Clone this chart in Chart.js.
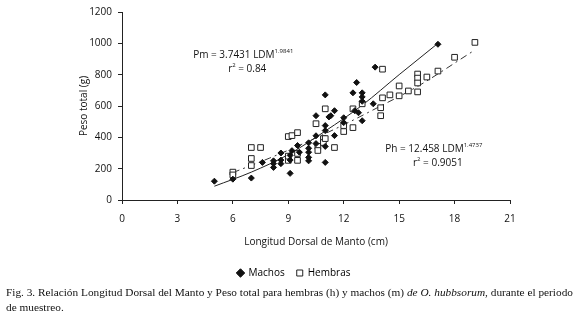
<!DOCTYPE html>
<html>
<head>
<meta charset="utf-8">
<script src="https://cdn.jsdelivr.net/npm/chart.js@4.4.1/dist/chart.umd.min.js"></script>
<style>
	body { margin: 0; background: #fff; }
	#wrap { position: relative; width: 580px; height: 318px; }
	#box { position: absolute; left: 0; top: 0; width: 580px; height: 288px; }
	#caption {
		position: absolute; left: 6px; top: 285px; width: 574px;
		font-family: 'Liberation Serif', serif; font-size: 11.3px; line-height: 15px; color: #111;
	}
</style>
</head>
<body>
<div id="wrap">
	<div id="box"><canvas id="chart"></canvas></div>
	<div id="caption">Fig. 3. Relación Longitud Dorsal del Manto y Peso total para hembras (h) y machos (m) <i>de O. hubbsorum</i>, durante el periodo de muestreo.</div>
</div>
<script>
// machos (m) : LDM cm / peso g
const machosLdm = [5.0, 6.0, 7.0, 7.6, 8.2, 8.2, 8.2, 8.6, 8.6, 8.6, 9.1, 9.1, 9.1, 9.2, 9.5, 9.6, 10.1, 10.1, 10.1, 10.1, 10.1,
	10.5, 10.5, 10.5, 11.0, 11.0, 11.2, 11.0, 11.5, 11.3, 12.0, 12.0, 13.0, 12.6, 12.8, 11.0, 11.0, 11.5, 12.7, 12.5, 13.0, 13.0,
	13.0, 13.6, 13.7, 17.1];
const machosPeso = [120, 133, 140, 240, 250, 232, 208, 300, 255, 232, 170, 285, 255, 315, 348, 305, 365, 330, 305, 272, 250,
	538, 410, 360, 342, 240, 530, 671, 570, 538, 525, 494, 506, 570, 557, 475, 443, 411, 750, 684, 684, 658,
	630, 614, 848, 994];

// hembras (h)
const hembrasLdm = [6.0, 6.0, 7.0, 7.5, 7.0, 7.0, 9.0, 9.2, 9.5, 10.5, 11.5, 10.6, 10.6, 9.5, 9.5, 9.0, 9.0, 10.9, 10.9,
	11.0, 12.5, 13.0, 14.0, 14.0, 12.0, 12.5, 12.0, 11.0, 14.1, 15.0, 14.5, 15.0, 14.1, 17.1, 16.5, 16.0, 16.0, 16.0,
	15.5, 16.0, 18.0, 19.1];
const hembrasPeso = [178, 160, 335, 335, 265, 220, 405, 411, 430, 487, 335, 342, 316, 297, 253, 253, 280, 392, 367,
	582, 582, 614, 589, 538, 475, 462, 437, 392, 835, 728, 671, 665, 652, 823, 785, 804, 778, 747,
	696, 690, 911, 1006];

// trend curves
const curvaMLdm = [5, 7, 9, 11, 13, 15, 17.1];
const curvaMPeso = [88, 178, 290, 440, 605, 800, 1000];
const curvaHLdm = [6, 8, 10, 12, 14, 16, 19];
const curvaHPeso = [175, 268, 370, 480, 600, 725, 950];

const xTicks = [0, 3, 6, 9, 12, 15, 18, 21];
const yTicks = [0, 200, 400, 600, 800, 1000, 1200];

const toPoints = (xs, ys) => xs.map((x, i) => ({ x: x, y: ys[i] }));

const tickFont = { family: "'Open Sans', sans-serif", size: 10 };

// equations drawn inside the plot, anchored on data coordinates
const equations = [
	{ x: 3.85, y: 905, main: 'Pm = 3.7431 LDM', sup: '1.9841', r: 'r', rSup: '2', rRest: ' = 0.84' },
	{ x: 14.25, y: 304, main: 'Ph = 12.458 LDM', sup: '1.4737', r: 'r', rSup: '2', rRest: ' = 0.9051' }
];

const equationPlugin = {
	id: 'equations',
	afterDatasetsDraw(chart) {
		const ctx = chart.ctx;
		const sx = chart.scales.x, sy = chart.scales.y;
		ctx.save();
		ctx.fillStyle = '#111';
		ctx.textBaseline = 'alphabetic';
		for (let eq of equations) {
			let px = sx.getPixelForValue(eq.x);
			let py = sy.getPixelForValue(eq.y);
			ctx.font = "10px 'Open Sans', sans-serif";
			let w = ctx.measureText(eq.main).width;
			ctx.fillText(eq.main, px, py);
			ctx.font = "6px 'Open Sans', sans-serif";
			let ws = ctx.measureText(eq.sup).width;
			ctx.fillText(eq.sup, px + w, py - 5);
			let full = w + ws;
			// second line centred under the first
			ctx.font = "10px 'Open Sans', sans-serif";
			let wr = ctx.measureText(eq.r).width;
			let wrr = ctx.measureText(eq.rRest).width;
			ctx.font = "6px 'Open Sans', sans-serif";
			let wrs = ctx.measureText(eq.rSup).width;
			let start = px + (full - (wr + wrs + wrr)) / 2 + 4;
			ctx.font = "10px 'Open Sans', sans-serif";
			ctx.fillText(eq.r, start, py + 14);
			ctx.fillText(eq.rRest, start + wr + wrs, py + 14);
			ctx.font = "6px 'Open Sans', sans-serif";
			ctx.fillText(eq.rSup, start + wr, py + 9);
		}
		ctx.restore();
	}
};

new Chart(document.getElementById('chart'), {
	type: 'scatter',
	data: {
		datasets: [
			{
				label: 'Machos',
				data: toPoints(machosLdm, machosPeso),
				pointStyle: 'rectRot',
				pointRadius: 3,
				backgroundColor: '#111',
				borderColor: '#111',
				borderWidth: 1
			},
			{
				label: 'Hembras',
				data: toPoints(hembrasLdm, hembrasPeso),
				pointStyle: 'rect',
				pointRadius: 4,
				backgroundColor: '#fff',
				borderColor: '#222',
				borderWidth: 1
			},
			{
				label: 'curvaM',
				type: 'line',
				data: toPoints(curvaMLdm, curvaMPeso),
				showLine: true,
				pointRadius: 0,
				borderColor: '#222',
				borderWidth: 1,
				cubicInterpolationMode: 'monotone',
				fill: false
			},
			{
				label: 'curvaH',
				type: 'line',
				data: toPoints(curvaHLdm, curvaHPeso),
				showLine: true,
				pointRadius: 0,
				borderColor: '#333',
				borderWidth: 1,
				borderDash: [7, 4, 2, 4],
				cubicInterpolationMode: 'monotone',
				fill: false
			}
		]
	},
	options: {
		responsive: true,
		maintainAspectRatio: false,
		animation: false,
		layout: { padding: { left: 78, right: 70, top: 0, bottom: 0 } },
		plugins: {
			tooltip: { enabled: false },
			legend: {
				position: 'bottom',
				labels: {
					usePointStyle: true,
					boxWidth: 6,
					boxHeight: 6,
					padding: 12,
					color: '#111',
					font: { family: "'Open Sans', sans-serif", size: 10 },
					generateLabels: (chart) => [
						{ text: 'Machos', pointStyle: 'rectRot', fillStyle: '#111', strokeStyle: '#111', lineWidth: 1, datasetIndex: 0 },
						{ text: 'Hembras', pointStyle: 'rect', fillStyle: '#fff', strokeStyle: '#222', lineWidth: 1, datasetIndex: 1 }
					]
				}
			}
		},
		scales: {
			x: {
				type: 'linear',
				min: 0,
				max: 21,
				afterBuildTicks: (scale) => { scale.ticks = xTicks.map((v) => ({ value: v })); },
				ticks: { color: '#111', font: tickFont, padding: 9 },
				grid: { display: true, drawOnChartArea: false, drawTicks: true, tickLength: 4, color: '#222' },
				border: { display: true, color: '#222', width: 1 },
				title: { display: true, text: 'Longitud Dorsal de Manto (cm)', color: '#111', font: tickFont, padding: { top: 2, bottom: 8 } }
			},
			y: {
				type: 'linear',
				min: 0,
				max: 1200,
				afterBuildTicks: (scale) => { scale.ticks = yTicks.map((v) => ({ value: v })); },
				ticks: { color: '#111', font: tickFont, padding: 6, callback: (v) => String(v) },
				grid: { display: true, drawOnChartArea: false, drawTicks: true, tickLength: 4, color: '#222' },
				border: { display: true, color: '#222', width: 1 },
				title: { display: true, text: 'Peso total (g)', color: '#111', font: tickFont, padding: { top: 0, bottom: 10 } },
				afterFit: (scale) => { scale.width = 44; }
			}
		}
	},
	plugins: [equationPlugin]
});
</script>
</body>
</html>
